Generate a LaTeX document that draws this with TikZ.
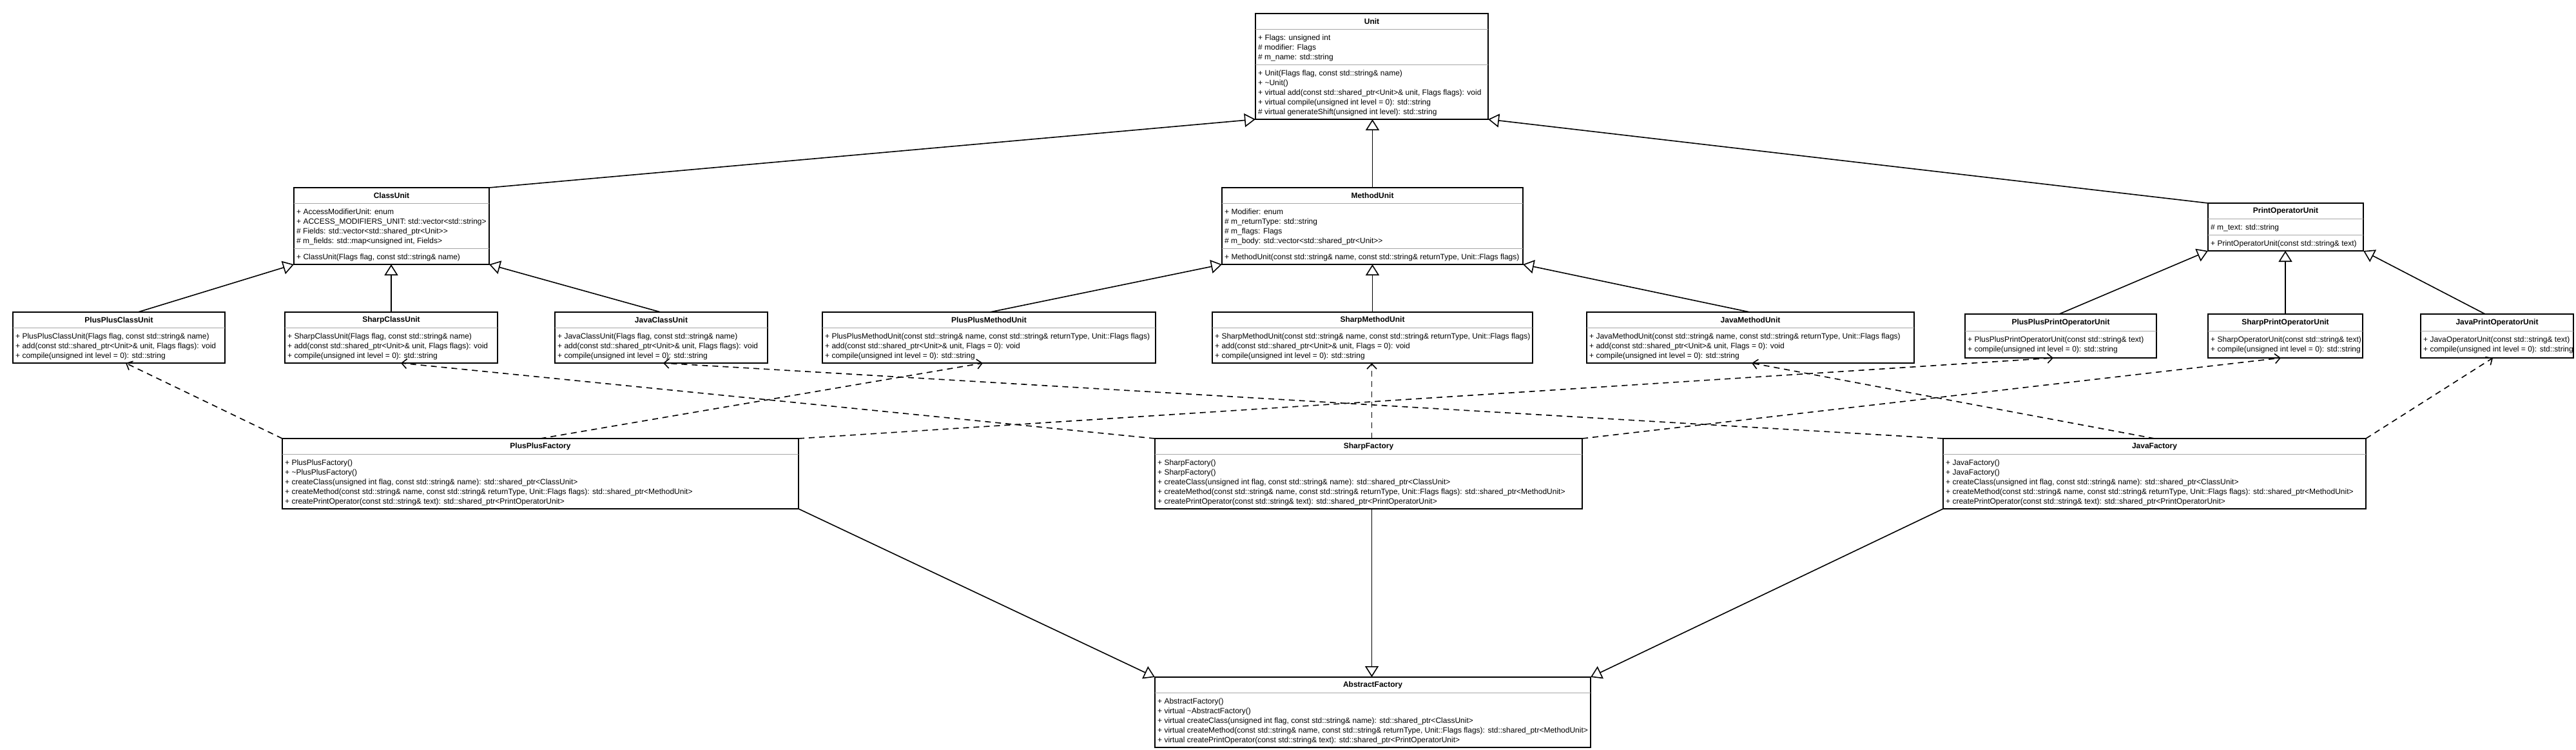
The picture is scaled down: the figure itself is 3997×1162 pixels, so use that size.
\documentclass[tikz,border=0pt]{standalone}
\usepackage{fontspec}
\setmainfont{Liberation Sans}
\usetikzlibrary{arrows.meta,calc,fit}
\newcommand\umlbox[5]{\node[box, fit={(#2,#3) (#4,#5)}] (#1) {};}
\newcommand\umltitle[2]{\node[ttl] (#1-t) at ($(#1.north)+(0,12.5)$) {#2};}
\newcommand\umltitleB[3]{\node[ttl] (#1-t) at ($(#1.north)+(0,#2)$) {#3};}
\newcommand\umlsep[2]{\draw[sepline] ($(#1.north west)+(0,#2)$) -- ($(#1.north east)+(0,#2)$);}
\newcommand\umltext[4]{\node[mem] (#1-#2) at ($(#1.north west)+(4,#3)$) {\strut #4};}
\begin{document}
\begin{tikzpicture}[x=1pt,y=-1pt,
  box/.style={draw=black, line width=1.6pt, inner sep=0pt, outer sep=0pt, fill=white},
  sepline/.style={draw=black!35, line width=0.9pt},
  ttl/.style={font=\fontsize{12}{15}\selectfont\bfseries, inner sep=0pt},
  mem/.style={font=\fontsize{12}{15}\selectfont, align=left, inner sep=0pt, anchor=north west},
  inherit/.style={line width=1.6pt, -{Triangle[open, length=17pt, width=21pt, line width=1.6pt]}},
  depend/.style={line width=1.6pt, dash pattern=on 9pt off 7pt, -{Straight Barb[length=8pt, width=15pt, line width=1.6pt]}},
]
\fill[white] (0,0) rectangle (3997,1162);
\useasboundingbox (0,0) rectangle (3997,1162);

% ---------- Unit ----------
\umlbox{Unit}{1948}{21}{2309}{185}
\umltitle{Unit}{Unit}
\umlsep{Unit}{24}\umlsep{Unit}{79}
\umltext{Unit}{a}{30.5}{+ Flags: unsigned int\\\# modifier: Flags\\\# m\_name: std::string}
\umltext{Unit}{o}{85.5}{+ Unit(Flags flag, const std::string\& name)\\+ \textasciitilde{}Unit()\\+ virtual add(const std::shared\_ptr<Unit>\& unit, Flags flags): void\\+ virtual compile(unsigned int level = 0): std::string\\\# virtual generateShift(unsigned int level): std::string}

% ---------- ClassUnit ----------
\umlbox{ClassUnit}{456}{291}{759}{410}
\umltitle{ClassUnit}{ClassUnit}
\umlsep{ClassUnit}{24}\umlsep{ClassUnit}{94}
\umltext{ClassUnit}{a}{30.5}{+ AccessModifierUnit: enum\\+ ACCESS\_MODIFIERS\_UNIT: std::vector<std::string>\\\# Fields: std::vector<std::shared\_ptr<Unit>{}>\\\# m\_fields: std::map<unsigned int, Fields>}
\umltext{ClassUnit}{o}{100.5}{+ ClassUnit(Flags flag, const std::string\& name)}

% ---------- MethodUnit ----------
\umlbox{MethodUnit}{1896}{291}{2363}{410}
\umltitle{MethodUnit}{MethodUnit}
\umlsep{MethodUnit}{24}\umlsep{MethodUnit}{94}
\umltext{MethodUnit}{a}{30.5}{+ Modifier: enum\\\# m\_returnType: std::string\\\# m\_flags: Flags\\\# m\_body: std::vector<std::shared\_ptr<Unit>{}>}
\umltext{MethodUnit}{o}{100.5}{+ MethodUnit(const std::string\& name, const std::string\& returnType, Unit::Flags flags)}

% ---------- PrintOperatorUnit ----------
\umlbox{PrintOp}{3426}{315}{3667}{389}
\umltitle{PrintOp}{PrintOperatorUnit}
\umlsep{PrintOp}{24}\umlsep{PrintOp}{49}
\umltext{PrintOp}{a}{30.5}{\# m\_text: std::string}
\umltext{PrintOp}{o}{55.5}{+ PrintOperatorUnit(const std::string\& text)}

% ---------- row 2 ----------
\umlbox{PPClass}{20}{484}{349}{563}
\umltitle{PPClass}{PlusPlusClassUnit}
\umlsep{PPClass}{24}
\umltext{PPClass}{o}{30.5}{+ PlusPlusClassUnit(Flags flag, const std::string\& name)\\+ add(const std::shared\_ptr<Unit>\& unit, Flags flags): void\\+ compile(unsigned int level = 0): std::string}

\umlbox{SharpClass}{442}{484}{772}{563}
\umltitle{SharpClass}{SharpClassUnit}
\umlsep{SharpClass}{24}
\umltext{SharpClass}{o}{30.5}{+ SharpClassUnit(Flags flag, const std::string\& name)\\+ add(const std::shared\_ptr<Unit>\& unit, Flags flags): void\\+ compile(unsigned int level = 0): std::string}

\umlbox{JavaClass}{861}{484}{1191}{563}
\umltitle{JavaClass}{JavaClassUnit}
\umlsep{JavaClass}{24}
\umltext{JavaClass}{o}{30.5}{+ JavaClassUnit(Flags flag, const std::string\& name)\\+ add(const std::shared\_ptr<Unit>\& unit, Flags flags): void\\+ compile(unsigned int level = 0): std::string}

\umlbox{PPMethod}{1276}{484}{1793}{563}
\umltitle{PPMethod}{PlusPlusMethodUnit}
\umlsep{PPMethod}{24}
\umltext{PPMethod}{o}{30.5}{+ PlusPlusMethodUnit(const std::string\& name, const std::string\& returnType, Unit::Flags flags)\\+ add(const std::shared\_ptr<Unit>\& unit, Flags = 0): void\\+ compile(unsigned int level = 0): std::string}

\umlbox{SharpMethod}{1881}{484}{2378}{563}
\umltitle{SharpMethod}{SharpMethodUnit}
\umlsep{SharpMethod}{24}
\umltext{SharpMethod}{o}{30.5}{+ SharpMethodUnit(const std::string\& name, const std::string\& returnType, Unit::Flags flags)\\+ add(const std::shared\_ptr<Unit>\& unit, Flags = 0): void\\+ compile(unsigned int level = 0): std::string}

\umlbox{JavaMethod}{2462}{484}{2970}{563}
\umltitle{JavaMethod}{JavaMethodUnit}
\umlsep{JavaMethod}{24}
\umltext{JavaMethod}{o}{30.5}{+ JavaMethodUnit(const std::string\& name, const std::string\& returnType, Unit::Flags flags)\\+ add(const std::shared\_ptr<Unit>\& unit, Flags = 0): void\\+ compile(unsigned int level = 0): std::string}

\umlbox{PPPrint}{3049}{487}{3346}{555}
\umltitleB{PPPrint}{13.5}{PlusPlusPrintOperatorUnit}
\umlsep{PPPrint}{26}
\umltext{PPPrint}{o}{32.5}{+ PlusPlusPrintOperatorUnit(const std::string\& text)\\+ compile(unsigned int level = 0): std::string}

\umlbox{SharpPrint}{3426}{487}{3666}{555}
\umltitleB{SharpPrint}{13.5}{SharpPrintOperatorUnit}
\umlsep{SharpPrint}{26}
\umltext{SharpPrint}{o}{32.5}{+ SharpOperatorUnit(const std::string\& text)\\+ compile(unsigned int level = 0): std::string}

\umlbox{JavaPrint}{3756}{487}{3993}{555}
\umltitleB{JavaPrint}{13.5}{JavaPrintOperatorUnit}
\umlsep{JavaPrint}{26}
\umltext{JavaPrint}{o}{32.5}{+ JavaOperatorUnit(const std::string\& text)\\+ compile(unsigned int level = 0): std::string}

% ---------- factories ----------
\umlbox{PPFactory}{438}{680}{1239}{789}
\umltitle{PPFactory}{PlusPlusFactory}
\umlsep{PPFactory}{24}
\umltext{PPFactory}{o}{30.5}{+ PlusPlusFactory()\\+ \textasciitilde{}PlusPlusFactory()\\+ createClass(unsigned int flag, const std::string\& name): std::shared\_ptr<ClassUnit>\\+ createMethod(const std::string\& name, const std::string\& returnType, Unit::Flags flags): std::shared\_ptr<MethodUnit>\\+ createPrintOperator(const std::string\& text): std::shared\_ptr<PrintOperatorUnit>}

\umlbox{SharpFactory}{1792}{680}{2455}{789}
\umltitle{SharpFactory}{SharpFactory}
\umlsep{SharpFactory}{24}
\umltext{SharpFactory}{o}{30.5}{+ SharpFactory()\\+ SharpFactory()\\+ createClass(unsigned int flag, const std::string\& name): std::shared\_ptr<ClassUnit>\\+ createMethod(const std::string\& name, const std::string\& returnType, Unit::Flags flags): std::shared\_ptr<MethodUnit>\\+ createPrintOperator(const std::string\& text): std::shared\_ptr<PrintOperatorUnit>}

\umlbox{JavaFactory}{3015}{680}{3671}{789}
\umltitle{JavaFactory}{JavaFactory}
\umlsep{JavaFactory}{24}
\umltext{JavaFactory}{o}{30.5}{+ JavaFactory()\\+ JavaFactory()\\+ createClass(unsigned int flag, const std::string\& name): std::shared\_ptr<ClassUnit>\\+ createMethod(const std::string\& name, const std::string\& returnType, Unit::Flags flags): std::shared\_ptr<MethodUnit>\\+ createPrintOperator(const std::string\& text): std::shared\_ptr<PrintOperatorUnit>}

\umlbox{AbsFactory}{1792}{1050}{2468}{1159}
\umltitle{AbsFactory}{AbstractFactory}
\umlsep{AbsFactory}{24}
\umltext{AbsFactory}{o}{30.5}{+ AbstractFactory()\\+ virtual \textasciitilde{}AbstractFactory()\\+ virtual createClass(unsigned int flag, const std::string\& name): std::shared\_ptr<ClassUnit>\\+ virtual createMethod(const std::string\& name, const std::string\& returnType, Unit::Flags flags): std::shared\_ptr<MethodUnit>\\+ virtual createPrintOperator(const std::string\& text): std::shared\_ptr<PrintOperatorUnit>}

% ---------- generalisations ----------
\draw[inherit] (ClassUnit.north east) -- (Unit.south west);
\draw[inherit] (MethodUnit.north) -- (MethodUnit.north |- Unit.south);
\draw[inherit] (PrintOp.north west) -- (Unit.south east);
\draw[inherit] ($(PPClass.north west)+(194,0)$) -- (ClassUnit.south west);
\draw[inherit] (SharpClass.north) -- (SharpClass.north |- ClassUnit.south);
\draw[inherit] ($(JavaClass.north west)+(164,0)$) -- (ClassUnit.south east);
\draw[inherit] ($(PPMethod.north west)+(260,0)$) -- (MethodUnit.south west);
\draw[inherit] (SharpMethod.north) -- (SharpMethod.north |- MethodUnit.south);
\draw[inherit] ($(JavaMethod.north west)+(253,0)$) -- (MethodUnit.south east);
\draw[inherit] ($(PPPrint.north west)+(146,0)$) -- (PrintOp.south west);
\draw[inherit] (SharpPrint.north) -- (SharpPrint.north |- PrintOp.south);
\draw[inherit] ($(JavaPrint.north west)+(100,0)$) -- (PrintOp.south east);
\draw[inherit] (PPFactory.south east) -- (AbsFactory.north west);
\draw[inherit] ($(SharpFactory.south)+(5,0)$) -- ($(SharpFactory.south |- AbsFactory.north)+(5,0)$);
\draw[inherit] (JavaFactory.south west) -- (AbsFactory.north east);

% ---------- dependencies ----------
\draw[depend] (PPFactory.north west) -- ($(PPClass.south west)+(175,0)$);
\draw[depend] (PPFactory.north) -- ($(PPMethod.south west)+(249,0)$);
\draw[depend] (PPFactory.north east) -- ($(PPPrint.south west)+(137,0)$);
\draw[depend] (SharpFactory.north west) -- ($(SharpClass.south west)+(180,0)$);
\draw[depend] ($(SharpFactory.north)+(5,0)$) -- ($(SharpFactory.north |- SharpMethod.south)+(5,0)$);
\draw[depend] (SharpFactory.north east) -- ($(SharpPrint.south west)+(113,0)$);
\draw[depend] (JavaFactory.north west) -- ($(JavaClass.south west)+(168,0)$);
\draw[depend] (JavaFactory.north) -- ($(JavaMethod.south west)+(256,0)$);
\draw[depend] (JavaFactory.north east) -- ($(JavaPrint.south west)+(112,0)$);
\end{tikzpicture}
\end{document}
